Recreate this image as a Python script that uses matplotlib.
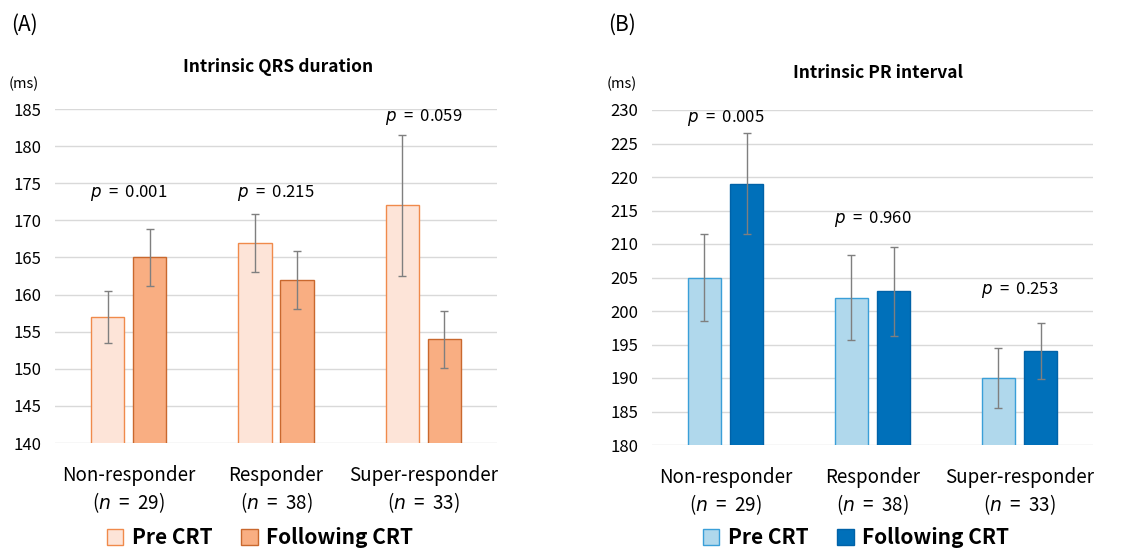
import matplotlib
matplotlib.use("Agg")
import matplotlib.pyplot as plt
import numpy as np
from matplotlib.patches import Patch

plt.rcParams['font.family'] = ['Noto Sans CJK KR', 'DejaVu Sans']
plt.rcParams['mathtext.fontset'] = 'dejavusans'

categories = ["Non-responder", "Responder", "Super-responder"]
n_values = [29, 38, 33]
series = ["Pre CRT", "Following CRT"]

qrs_pre = [157, 167, 172]
qrs_pre_err_low = [153.5, 163.1, 162.5]
qrs_pre_err_high = [160.5, 170.8, 181.5]
qrs_post = [165, 162, 154]
qrs_post_err_low = [161.1, 158.1, 150.1]
qrs_post_err_high = [168.8, 165.9, 157.8]
qrs_p = ["0.001", "0.215", "0.059"]
qrs_p_y = [173.7, 173.7, 183.9]

pr_pre = [205, 202, 190]
pr_pre_err_low = [198.5, 195.7, 185.5]
pr_pre_err_high = [211.5, 208.3, 194.5]
pr_post = [219, 203, 194]
pr_post_err_low = [211.5, 196.3, 189.8]
pr_post_err_high = [226.5, 209.6, 198.2]
pr_p = ["0.005", "0.960", "0.253"]
pr_p_y = [228.8, 213.7, 203.1]

W, H = 1133, 552
fig = plt.figure(figsize=(W / 100, H / 100), dpi=100)


def make_panel(rect, pre, pre_lo, pre_hi, post, post_lo, post_hi, pvals, py,
               ylim, yticks, colors, title, letter, letter_x, ms_x, title_x,
               title_y, leg_x):
    ax = fig.add_axes(rect)
    x = np.arange(len(categories))
    bw = 0.225
    off = 0.143
    ax.set_axisbelow(True)
    ax.yaxis.grid(True, color='#D9D9D9', linewidth=1.0)
    ax.bar(x - off, pre, width=bw, color=colors[0], edgecolor=colors[1],
           linewidth=1.0, zorder=2)
    ax.bar(x + off, post, width=bw, color=colors[2], edgecolor=colors[3],
           linewidth=1.0, zorder=2)
    pre = np.array(pre); post = np.array(post)
    ax.errorbar(x - off, pre,
                yerr=[pre - np.array(pre_lo), np.array(pre_hi) - pre],
                fmt='none', ecolor='#7F7F7F', elinewidth=1.0, capsize=3,
                capthick=1.0, zorder=3)
    ax.errorbar(x + off, post,
                yerr=[post - np.array(post_lo), np.array(post_hi) - post],
                fmt='none', ecolor='#7F7F7F', elinewidth=1.0, capsize=3,
                capthick=1.0, zorder=3)
    for i, (pv, yy) in enumerate(zip(pvals, py)):
        ax.text(x[i], yy, r"$p$  =  " + pv, ha='center', va='center',
                fontsize=12, color='#000000')
    ax.set_xlim(-0.5, 2.5)
    ax.set_ylim(*ylim)
    ax.set_yticks(yticks)
    ax.tick_params(axis='y', length=0, labelsize=12, pad=10)
    ax.tick_params(axis='x', length=0, labelsize=13.5, pad=16)
    ax.set_xticks(x)
    ax.set_xticklabels([f"{c}\n($n$  =  {n})" for c, n in zip(categories, n_values)],
                       linespacing=1.2)
    for s in ax.spines.values():
        s.set_visible(False)
    fig.text(letter_x / W, 1 - 25 / H, letter, fontsize=15, ha='left',
             va='center')
    fig.text(ms_x / W, 1 - 84 / H, "(ms)", fontsize=10.5, ha='center',
             va='center')
    fig.text(title_x / W, 1 - title_y / H, title, fontsize=12.5,
             fontweight='bold', ha='center', va='center')
    handles = [Patch(facecolor=colors[0], edgecolor=colors[1], label=series[0]),
               Patch(facecolor=colors[2], edgecolor=colors[3], label=series[1])]
    fig.legend(handles=handles, loc='center', bbox_to_anchor=(leg_x / W, 1 - 538 / H),
               ncol=2, frameon=False, prop={'weight': 'bold', 'size': 15},
               handlelength=0.8, handleheight=0.8, handletextpad=0.4,
               columnspacing=1.4)
    return ax


make_panel([55 / W, (H - 443) / H, 442 / W, 334 / H],
           qrs_pre, qrs_pre_err_low, qrs_pre_err_high,
           qrs_post, qrs_post_err_low, qrs_post_err_high,
           qrs_p, qrs_p_y, (140, 185), np.arange(140, 186, 5),
           ['#FDE4D8', '#F08A4B', '#F9AE82', '#C9682E'],
           "Intrinsic QRS duration", "(A)", 11, 24, 278, 67, 260)

make_panel([652 / W, (H - 445) / H, 441 / W, 335 / H],
           pr_pre, pr_pre_err_low, pr_pre_err_high,
           pr_post, pr_post_err_low, pr_post_err_high,
           pr_p, pr_p_y, (180, 230), np.arange(180, 231, 5),
           ['#B0D8EC', '#3A9FD8', '#0070BA', '#0062A8'],
           "Intrinsic PR interval", "(B)", 608, 622, 878, 73, 856)

fig.savefig("out.png", dpi=100)
